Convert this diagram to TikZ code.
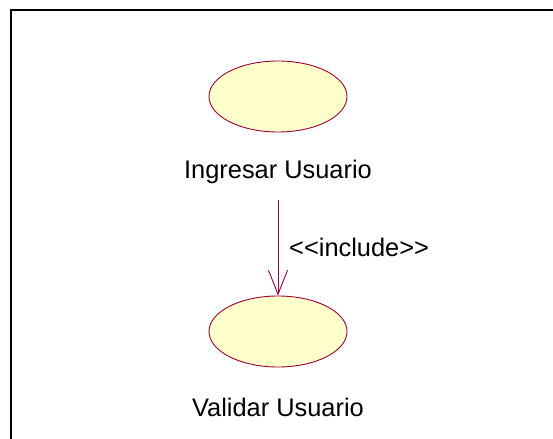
\documentclass[tikz,border=0pt]{standalone}
\usepackage{fontspec}
\setmainfont{Liberation Sans}
\usetikzlibrary{arrows.meta,shapes.geometric}
\definecolor{ucfill}{RGB}{255,255,204}
\definecolor{ucline}{RGB}{153,0,51}
\begin{document}
\begin{tikzpicture}[x=1bp,y=-1bp,
  usecase/.style={ellipse, draw=ucline, fill=ucfill, line width=0.9bp,
    minimum width=138bp, minimum height=71bp, inner sep=0pt},
  uclabel/.style={font=\fontsize{25.5}{30}\selectfont, inner sep=0pt, text=black},
  includes/.style={draw=ucline, line width=0.9bp,
    -{Straight Barb[length=24bp,width=19bp,line width=0.9bp]}},
  frameline/.style={draw=black, line width=2bp}]
  \useasboundingbox (0,0) rectangle (553,439);
  % diagram frame (top and left edges)
  \draw[frameline] (11,439) -- (11,10) -- (553,10);
  % use cases
  \node[usecase] (uc1) at (278,96.5) {};
  \node[uclabel] (lbl1) at (278,172) {Ingresar Usuario};
  \node[usecase] (uc2) at (278,331.5) {};
  \node[uclabel] (lbl2) at (278,407) {Validar Usuario};
  % include relationship
  \coordinate (incstart) at (278,200);
  \draw[includes] (incstart) -- (uc2.north);
  \node[uclabel, anchor=west] (inclbl) at (289,247) {<{}<include>{}>};
\end{tikzpicture}
\end{document}
